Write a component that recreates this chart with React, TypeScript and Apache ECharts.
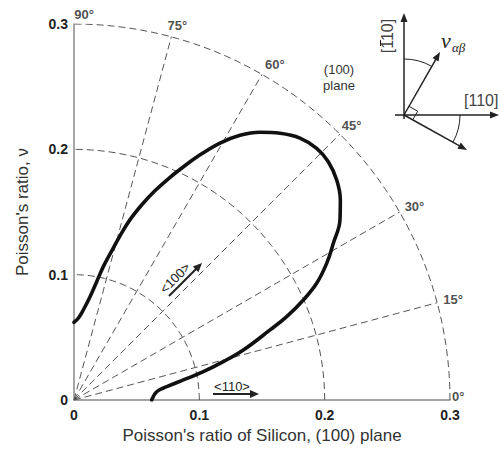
import React, { useEffect, useRef } from "react";
import * as echarts from "echarts";

const radii = [0.1, 0.2, 0.3];
const spokeAngles = [15, 30, 45, 60, 75];
const angleLabels = [0, 15, 30, 45, 60, 75, 90];
const xTicks = [0, 0.1, 0.2, 0.3];

const curveX = [0, 0.0034, 0.0074, 0.0128, 0.0181, 0.0234, 0.03, 0.0367, 0.045, 0.055, 0.065, 0.075, 0.085, 0.1, 0.1165, 0.1325, 0.1484, 0.1644, 0.1803, 0.1936, 0.2029, 0.2096, 0.2125, 0.2122, 0.2069, 0.2016, 0.1936, 0.183, 0.1697, 0.1564, 0.1351, 0.1191, 0.1032, 0.0872, 0.074, 0.066, 0.062];
const curveY = [0.062, 0.0652, 0.0718, 0.0824, 0.0944, 0.1064, 0.1188, 0.131, 0.1443, 0.1568, 0.1673, 0.1763, 0.1843, 0.1952, 0.205, 0.2112, 0.2136, 0.2128, 0.209, 0.2008, 0.1901, 0.1755, 0.1596, 0.1436, 0.125, 0.109, 0.0931, 0.0798, 0.0665, 0.0559, 0.0399, 0.0306, 0.0226, 0.016, 0.0106, 0.0066, 0];

const FONT = "'Liberation Sans', Arial, sans-serif";
const SERIF = "'Liberation Serif', 'DejaVu Serif', serif";
const labelPlacement: Record<number, { position: string; offset: number[] }> = {
  0: { position: "right", offset: [-3, -4] },
  15: { position: "right", offset: [1, -3] },
  30: { position: "right", offset: [0, -6] },
  45: { position: "right", offset: [-3, -9] },
  60: { position: "right", offset: [-2, -10] },
  75: { position: "top", offset: [6, 0] },
  90: { position: "top", offset: [10, 2] },
};

const rad = (d: number) => (d * Math.PI) / 180;

export default function App() {
  const ref = useRef<HTMLDivElement>(null);
  useEffect(() => {
    if (!ref.current) return;
    const chart = echarts.init(ref.current, null, { renderer: "svg" });
    const rMax = radii[radii.length - 1];
    const dash = { color: "#555", width: 1, type: [7, 4] as any };

    const arcSeries = radii.map((r) => {
      const pts: number[][] = [];
      for (let a = 0; a <= 90; a += 2) pts.push([r * Math.cos(rad(a)), r * Math.sin(rad(a))]);
      return { type: "line", data: pts, showSymbol: false, silent: true, lineStyle: dash, z: 1 };
    });
    const spokeSeries = spokeAngles.map((a) => ({
      type: "line", showSymbol: false, silent: true, z: 1,
      data: [[0, 0], [rMax * Math.cos(rad(a)), rMax * Math.sin(rad(a))]],
      lineStyle: dash,
    }));
    const labelSeries = {
      type: "scatter", symbolSize: 0, silent: true, z: 5,
      data: angleLabels.map((a) => ({
        value: [rMax * Math.cos(rad(a)), rMax * Math.sin(rad(a))],
        label: {
          show: true, formatter: a + "°", position: labelPlacement[a].position,
          offset: labelPlacement[a].offset,
          fontFamily: FONT, fontWeight: "bold", fontSize: 13, color: "#222",
        },
      })),
    };
    const curveSeries = {
      type: "line", smooth: 0.4, showSymbol: false, z: 3,
      data: curveX.map((x, i) => [x, curveY[i]]),
      lineStyle: { color: "#111", width: 3.6, cap: "round", join: "round" },
    };

    const axisCommon = {
      type: "value", min: 0, max: 0.3, interval: 0.1,
      axisLine: { show: true, lineStyle: { color: "#888", width: 1.5 } },
      axisTick: { show: false },
      splitLine: { show: false },
      axisLabel: {
        formatter: (v: number) => (v === 0 ? "0" : v.toFixed(1)),
        fontFamily: FONT, fontWeight: "bold", fontSize: 14, color: "#222",
      },
      nameLocation: "middle",
      nameTextStyle: { fontFamily: FONT, fontSize: 17, color: "#333" },
    };

    const O = [404, 115];
    const nuTip = [440, 52];
    const lowTip = [467, 150];
    const unit = (t: number[]) => {
      const dx = t[0] - O[0], dy = t[1] - O[1];
      const l = Math.hypot(dx, dy);
      return [dx / l, dy / l];
    };
    const head = (tip: number[], u: number[], len = 9, w = 3.5) => {
      const bx = tip[0] - u[0] * len, by = tip[1] - u[1] * len;
      return {
        base: [bx + u[0] * 2, by + u[1] * 2],
        pts: [tip, [bx - u[1] * w, by + u[0] * w], [bx + u[1] * w, by - u[0] * w]],
      };
    };
    const ink = "#222";
    const uNu = unit(nuTip), uLow = unit(lowTip);
    const hUp = head([404, 13], [0, -1]);
    const hRight = head([499, 115], [1, 0]);
    const hNu = head(nuTip, uNu);
    const hLow = head(lowTip, uLow);
    const p1 = [O[0] + uNu[0] * 10, O[1] + uNu[1] * 10];
    const p3 = [O[0] + uLow[0] * 10, O[1] + uLow[1] * 10];
    const p2 = [p1[0] + p3[0] - O[0], p1[1] + p3[1] - O[1]];
    const ln = (a: number[], b: number[], w = 1.5) => ({
      type: "line", shape: { x1: a[0], y1: a[1], x2: b[0], y2: b[1] },
      style: { stroke: ink, lineWidth: w },
    });
    const poly = (pts: number[][]) => ({ type: "polygon", shape: { points: pts }, style: { fill: ink } });

    const u100 = [Math.SQRT1_2, -Math.SQRT1_2];
    const h100 = head([202, 263], u100, 9, 4);
    const h110 = head([259, 394], [1, 0], 9, 4);

    chart.setOption({
      animation: false,
      grid: { left: 74, right: 49, top: 24, bottom: 53, containLabel: false },
      xAxis: { ...axisCommon, name: "Poisson's ratio of Silicon, (100) plane", nameGap: 24, axisLabel: { ...axisCommon.axisLabel, margin: 8 } },
      yAxis: { ...axisCommon, name: "Poisson's ratio, ν", nameGap: 43, nameRotate: 90, axisLabel: { ...axisCommon.axisLabel, margin: 6 } },
      series: [...arcSeries, ...spokeSeries, curveSeries, labelSeries],
      graphic: [
        // inset diagram
        ln([404, 119], hUp.base), poly(hUp.pts),
        ln([395, 115], hRight.base), poly(hRight.pts),
        ln(O, hNu.base), poly(hNu.pts),
        ln(O, hLow.base), poly(hLow.pts),
        { type: "polyline", shape: { points: [p1, p2, p3] }, style: { stroke: ink, lineWidth: 1, fill: "none" } },
        { type: "arc", shape: { cx: O[0], cy: O[1], r: 56, startAngle: -Math.PI / 2, endAngle: Math.atan2(uNu[1], uNu[0]), clockwise: true }, style: { stroke: ink, lineWidth: 1, fill: "none" } },
        { type: "arc", shape: { cx: O[0], cy: O[1], r: 56, startAngle: 0, endAngle: Math.atan2(uLow[1], uLow[0]), clockwise: true }, style: { stroke: ink, lineWidth: 1, fill: "none" } },
        { type: "text", x: 387, y: 36, rotation: Math.PI / 2, style: { text: "[110]", x: 0, y: 0, align: "center", verticalAlign: "middle", fontFamily: FONT, fontSize: 16, fill: "#444" } },
        ln([380.5, 40], [380.5, 46], 1),
        { type: "text", x: 464, y: 100, style: { text: "[110]", align: "left", verticalAlign: "middle", fontFamily: FONT, fontSize: 16, fill: "#444" } },
        { type: "text", x: 441, y: 40, style: { text: "ν", align: "left", verticalAlign: "middle", fontFamily: SERIF, fontStyle: "italic", fontSize: 22, fill: "#222" } },
        { type: "text", x: 452, y: 47, style: { text: "αβ", align: "left", verticalAlign: "middle", fontFamily: SERIF, fontStyle: "italic", fontSize: 13, fill: "#222" } },
        // plane label
        { type: "text", x: 339, y: 69, style: { text: "(100)", align: "center", verticalAlign: "middle", fontFamily: FONT, fontSize: 13, fill: "#333" } },
        { type: "text", x: 339, y: 85, style: { text: "plane", align: "center", verticalAlign: "middle", fontFamily: FONT, fontSize: 13, fill: "#333" } },
        // direction labels
        { type: "text", x: 175, y: 278, rotation: Math.PI / 4, style: { text: "<100>", x: 0, y: 0, align: "center", verticalAlign: "middle", fontFamily: FONT, fontSize: 13, fill: "#222" } },
        ln([169, 296], h100.base, 2), poly(h100.pts),
        { type: "text", x: 232, y: 386, style: { text: "<110>", align: "center", verticalAlign: "middle", fontFamily: FONT, fontSize: 13, fill: "#222" } },
        ln([213, 394], h110.base, 2), poly(h110.pts),
      ],
    });
    return () => chart.dispose();
  }, []);
  return <div ref={ref} style={{ position: "fixed", left: 0, top: 0, width: 499, height: 453, background: "#fff" }} />;
}
